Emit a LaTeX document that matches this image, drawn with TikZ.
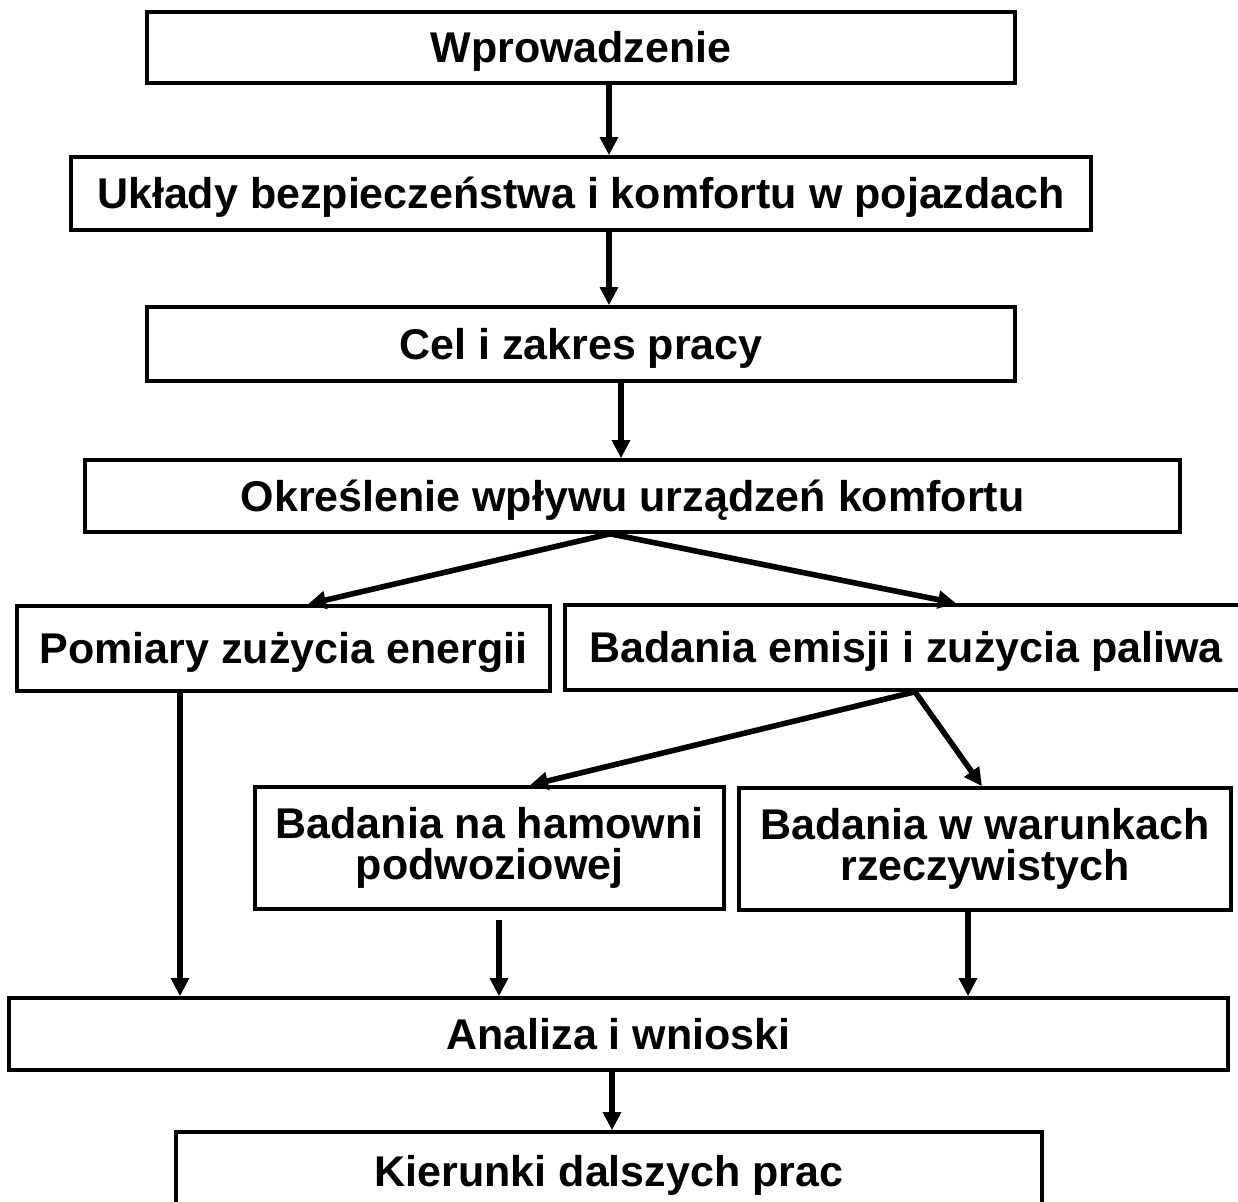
\documentclass[tikz,border=0pt]{standalone}
\usepackage{fontspec}
\setmainfont{Liberation Sans}
\usetikzlibrary{arrows.meta}
\tikzset {
  % framed box with bold text
  block/.style = {draw, line width=1.8pt, inner sep=0pt, align=center,
    font=\fontsize{21.5pt}{20.5pt}\selectfont\bfseries},
  % one line of text, centred on its capitals
  single/.style={text height=15.4pt, text depth=0pt},
  % connectors
  flow/.style={->, line width=2.8pt},
  >={Triangle[length=9pt, width=8.7pt]},
}

\begin{document}
\begin{tikzpicture}[x=0.5pt, y=-0.5pt]
        \useasboundingbox (0,0) rectangle (1238,1201);

        \node[block, single, minimum width=434pt, minimum height=35.5pt] (intro) at (581, 47.5) {Wprowadzenie};
        \node[block, single, minimum width=510pt, minimum height=36.5pt] (systems) at (581, 193.5) {Układy bezpieczeństwa i komfortu w pojazdach};
        \node[block, single, minimum width=434pt, minimum height=37pt] (aim) at (581, 344) {Cel i zakres pracy};
        \node[block, single, minimum width=547.5pt, minimum height=36pt] (impact) at (632.5, 496) {Określenie wpływu urządzeń komfortu};
        \node[block, single, minimum width=266.5pt, minimum height=42.5pt] (energy) at (283.5, 648.5) {Pomiary zużycia energii};
        \node[block, single, minimum width=341pt, minimum height=42.5pt] (emission) at (906, 647.5) {Badania emisji i zużycia paliwa};
        \node[block, minimum width=234.5pt, minimum height=61pt] (dyno) at (489.5, 848) {Badania na hamowni\\podwoziowej};
        \node[block, minimum width=246pt, minimum height=61pt] (road) at (985, 849) {Badania w warunkach\\rzeczywistych};
        \node[block, single, minimum width=609.5pt, minimum height=36pt] (analysis) at (618.5, 1034) {Analiza i wnioski};
        \node[block, single, minimum width=433pt, minimum height=39pt] (future) at (609, 1171) {Kierunki dalszych prac};

        \draw [flow] ([xshift=14pt]intro.south) -- ([xshift=14pt]intro.south |- systems.north);
        \draw [flow] ([xshift=14pt]systems.south) -- ([xshift=14pt]systems.south |- aim.north);
        \draw [flow] ([xshift=20pt]aim.south) -- ([xshift=20pt]aim.south |- impact.north);

        \draw [flow] ([xshift=-11.25pt]impact.south) -- ([xshift=12.25pt]energy.north);
        \draw [flow] ([xshift=-11.25pt]impact.south) -- ([xshift=25pt]emission.north);

        \draw [flow] ([xshift=4.5pt]emission.south) -- ([xshift=20.25pt]dyno.north);
        \draw [flow] ([xshift=4.5pt]emission.south) -- ([xshift=-1.5pt]road.north);

        \draw [flow] ([xshift=-51.75pt]energy.south) -- ([xshift=-51.75pt]energy.south |- analysis.north);
        \draw [flow] ([xshift=4.75pt, yshift=-4.5pt]dyno.south) -- ([xshift=4.75pt]dyno.south |- analysis.north);
        \draw [flow] ([xshift=-8.5pt]road.south) -- ([xshift=-8.5pt]road.south |- analysis.north);

        \draw [flow] ([xshift=-3.25pt]analysis.south) -- ([xshift=-3.25pt]analysis.south |- future.north);
      \end{tikzpicture}
\end{document}
